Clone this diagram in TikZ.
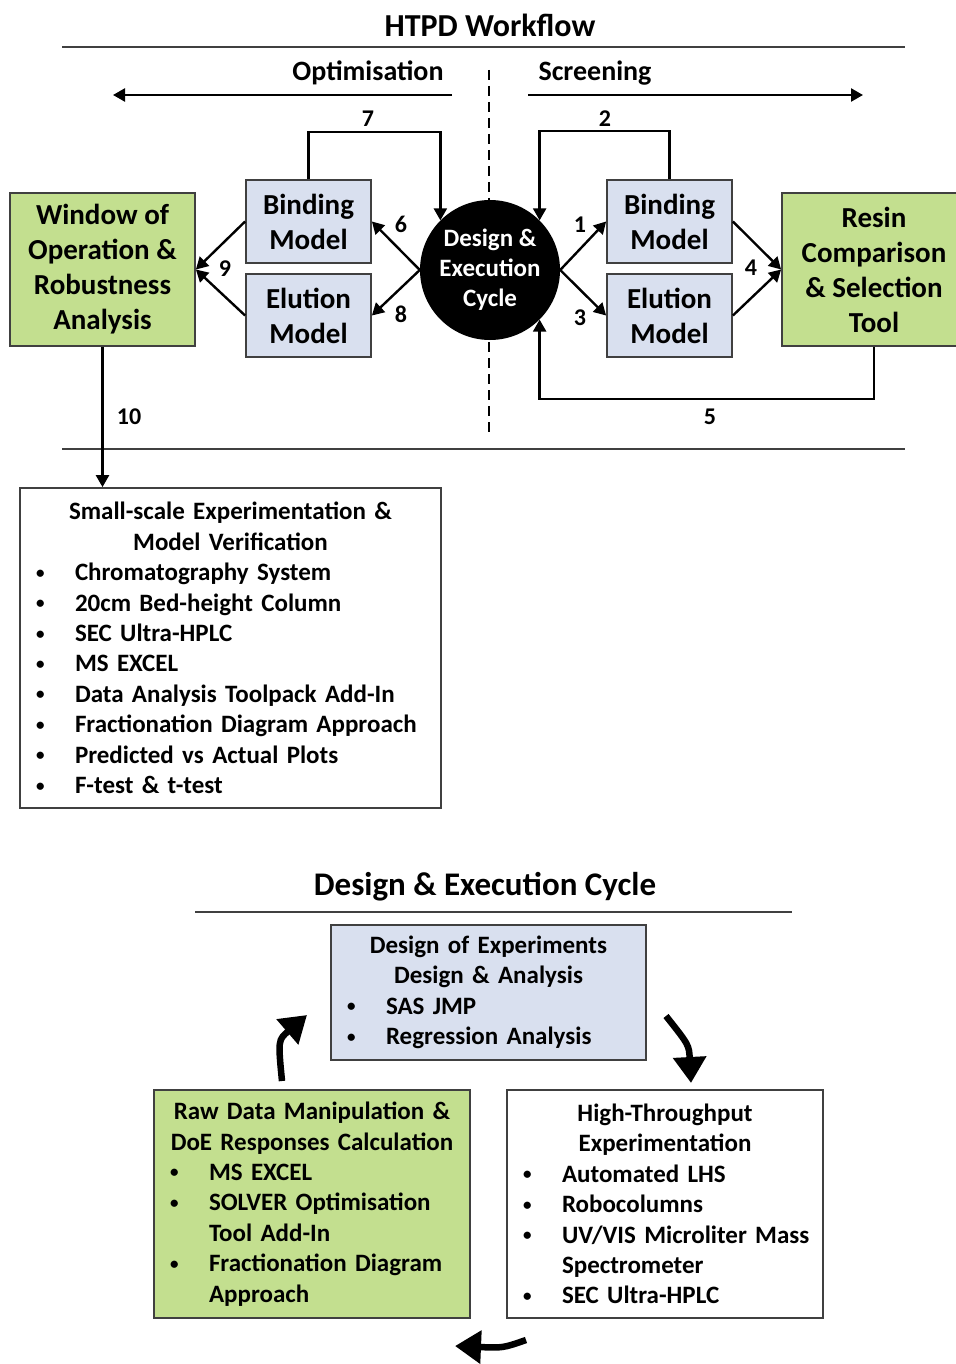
\documentclass[tikz,border=0pt]{standalone}
\usepackage{fontspec}
\setmainfont{Carlito}
\usetikzlibrary{arrows.meta}
\definecolor{boxgreen}{RGB}{195,223,143}
\definecolor{boxblue}{RGB}{217,224,239}
\definecolor{edgegray}{RGB}{64,64,64}
\newcommand{\hd}[1]{\makebox[\linewidth][c]{#1}}
\newcommand{\itm}[1]{\makebox[\linewidth][l]{\makebox[40pt][l]{\hspace*{1pt}\raisebox{2.5pt}{\fontsize{17}{17}\selectfont\textbullet}}#1}}
\newcommand{\cnt}[1]{\makebox[\linewidth][l]{\hspace*{40pt}#1}}
\tikzset{
  box/.style={draw=edgegray, line width=1.8pt, align=center, inner sep=0pt,
    font=\bfseries\fontsize{29}{35}\selectfont},
  modelbox/.style={box, fill=boxblue, minimum width=125pt, minimum height=83pt},
  endbox/.style={box, fill=boxgreen, minimum width=185pt, minimum height=153pt},
  listbox/.style={draw=edgegray, line width=1.8pt, inner sep=0pt, align=left,
    font=\bfseries\fontsize{25}{30.4}\selectfont},
  conn/.style={line width=2.4pt, -{Triangle[length=12pt,width=13pt]}},
  num/.style={font=\bfseries\fontsize{24}{28}\selectfont},
  heading/.style={font=\bfseries\fontsize{32}{38}\selectfont},
  side/.style={font=\bfseries\fontsize{28}{32}\selectfont},
  rule/.style={line width=2pt, draw=edgegray},
  cyclearrow/.style={line width=6.5pt, -{Triangle[length=26pt,width=32pt]}}
}
\begin{document}
\begin{tikzpicture}[x=1pt,y=-1pt]
  \path[use as bounding box, fill=white] (0,0) rectangle (955,1364);

  \node[heading] (title) at (490,25) {HTPD Workflow};
  \draw[rule] (62,47) -- (905,47);
  \node[side] (opt) at (368,73) {Optimisation};
  \node[side] (scr) at (595,73) {Screening};
  \draw[conn] (452,95) -- (113,95);
  \draw[conn] (528,95) -- (863,95);
  \draw[line width=2pt, dash pattern=on 10pt off 6pt] (489,70) -- (489,432);
  \draw[rule] (62,449) -- (905,449);

  \node[endbox] (window) at (102.5,269.5) {Window of\\Operation \&\\Robustness\\Analysis};
  \node[modelbox] (bindL) at (308.5,221.5) {Binding\\Model};
  \node[modelbox] (eluL) at (308.5,315.5) {Elution\\Model};
  \node[circle, fill=black, minimum size=140pt, inner sep=0pt, text=white, align=center,
    font=\bfseries\fontsize{25}{30}\selectfont] (dec) at (490,270) {Design \&\\Execution\\Cycle};
  \node[modelbox] (bindR) at (669.5,221.5) {Binding\\Model};
  \node[modelbox] (eluR) at (669.5,315.5) {Elution\\Model};
  \node[endbox, minimum width=184pt] (resin) at (874,269.5) {Resin\\Comparison\\\& Selection\\Tool};

  \draw[conn] (dec.east) -- (bindR.west);
  \draw[conn] (bindR.north) -- ++(0,-48) -| (dec.north east);
  \draw[conn] (dec.east) -- (eluR.west);
  \draw[conn] (bindR.east) -- (resin.west);
  \draw[conn] (eluR.east) -- (resin.west);
  \draw[conn] (resin.south) -- ++(0,52) -| (dec.south east);
  \draw[conn] (dec.west) -- (bindL.east);
  \draw[conn] (bindL.north) -- ++(0,-47) -| (dec.north west);
  \draw[conn] (dec.west) -- (eluL.east);
  \draw[conn] (bindL.west) -- (window.east);
  \draw[conn] (eluL.west) -- (window.east);

  \node[num] (n1) at (580,225) {1};
  \node[num] (n2) at (605,119) {2};
  \node[num] (n3) at (580,318) {3};
  \node[num] (n4) at (751,268) {4};
  \node[num] (n5) at (710,417) {5};
  \node[num] (n6) at (401,224) {6};
  \node[num] (n7) at (368,119) {7};
  \node[num] (n8) at (401,314) {8};
  \node[num] (n9) at (225,269) {9};
  \node[num] (n10) at (129,417) {10};

  \node[listbox, text width=391pt, minimum width=421pt, minimum height=320pt] (small) at (230.5,648)
    {\hd{Small-scale Experimentation \&}\\\hd{Model Verification}\\
     \itm{Chromatography System}\\\itm{20cm Bed-height Column}\\\itm{SEC Ultra-HPLC}\\
     \itm{MS EXCEL}\\\itm{Data Analysis Toolpack Add-In}\\\itm{Fractionation Diagram Approach}\\
     \itm{Predicted vs Actual Plots}\\\itm{F-test \& t-test}};
  \draw[conn] (window.south) -- (window.south |- small.north);

  \node[heading, font=\bfseries\fontsize{33}{38}\selectfont] (cyc) at (485,887) {Design \& Execution Cycle};
  \draw[rule] (195,912) -- (792,912);

  \node[listbox, fill=boxblue, text width=285pt, minimum width=315pt, minimum height=135pt] (doe) at (488.5,992.5)
    {\hd{Design of Experiments}\\\hd{Design \& Analysis}\\\itm{SAS JMP}\\\itm{Regression Analysis}};
  \node[listbox, fill=boxgreen, text width=286pt, minimum width=316pt, minimum height=228pt] (raw) at (312,1204)
    {\hd{Raw Data Manipulation \&}\\\hd{DoE Responses Calculation}\\\itm{MS EXCEL}\\
     \itm{SOLVER Optimisation}\\\cnt{Tool Add-In}\\\itm{Fractionation Diagram}\\\cnt{Approach}};
  \node[listbox, text width=286pt, minimum width=316pt, minimum height=228pt] (hte) at (665,1204)
    {\hd{High-Throughput}\\\hd{Experimentation}\\\itm{Automated LHS}\\\itm{Robocolumns}\\
     \itm{UV/VIS Microliter Mass}\\\cnt{Spectrometer}\\\itm{SEC Ultra-HPLC}};

  \draw[cyclearrow] (666,1016) .. controls (689,1045) .. (691,1083);
  \draw[cyclearrow] (526,1340) .. controls (503,1348) .. (455,1346);
  \draw[cyclearrow] (282,1081) .. controls (278,1040) .. (307,1015);
\end{tikzpicture}
\end{document}
